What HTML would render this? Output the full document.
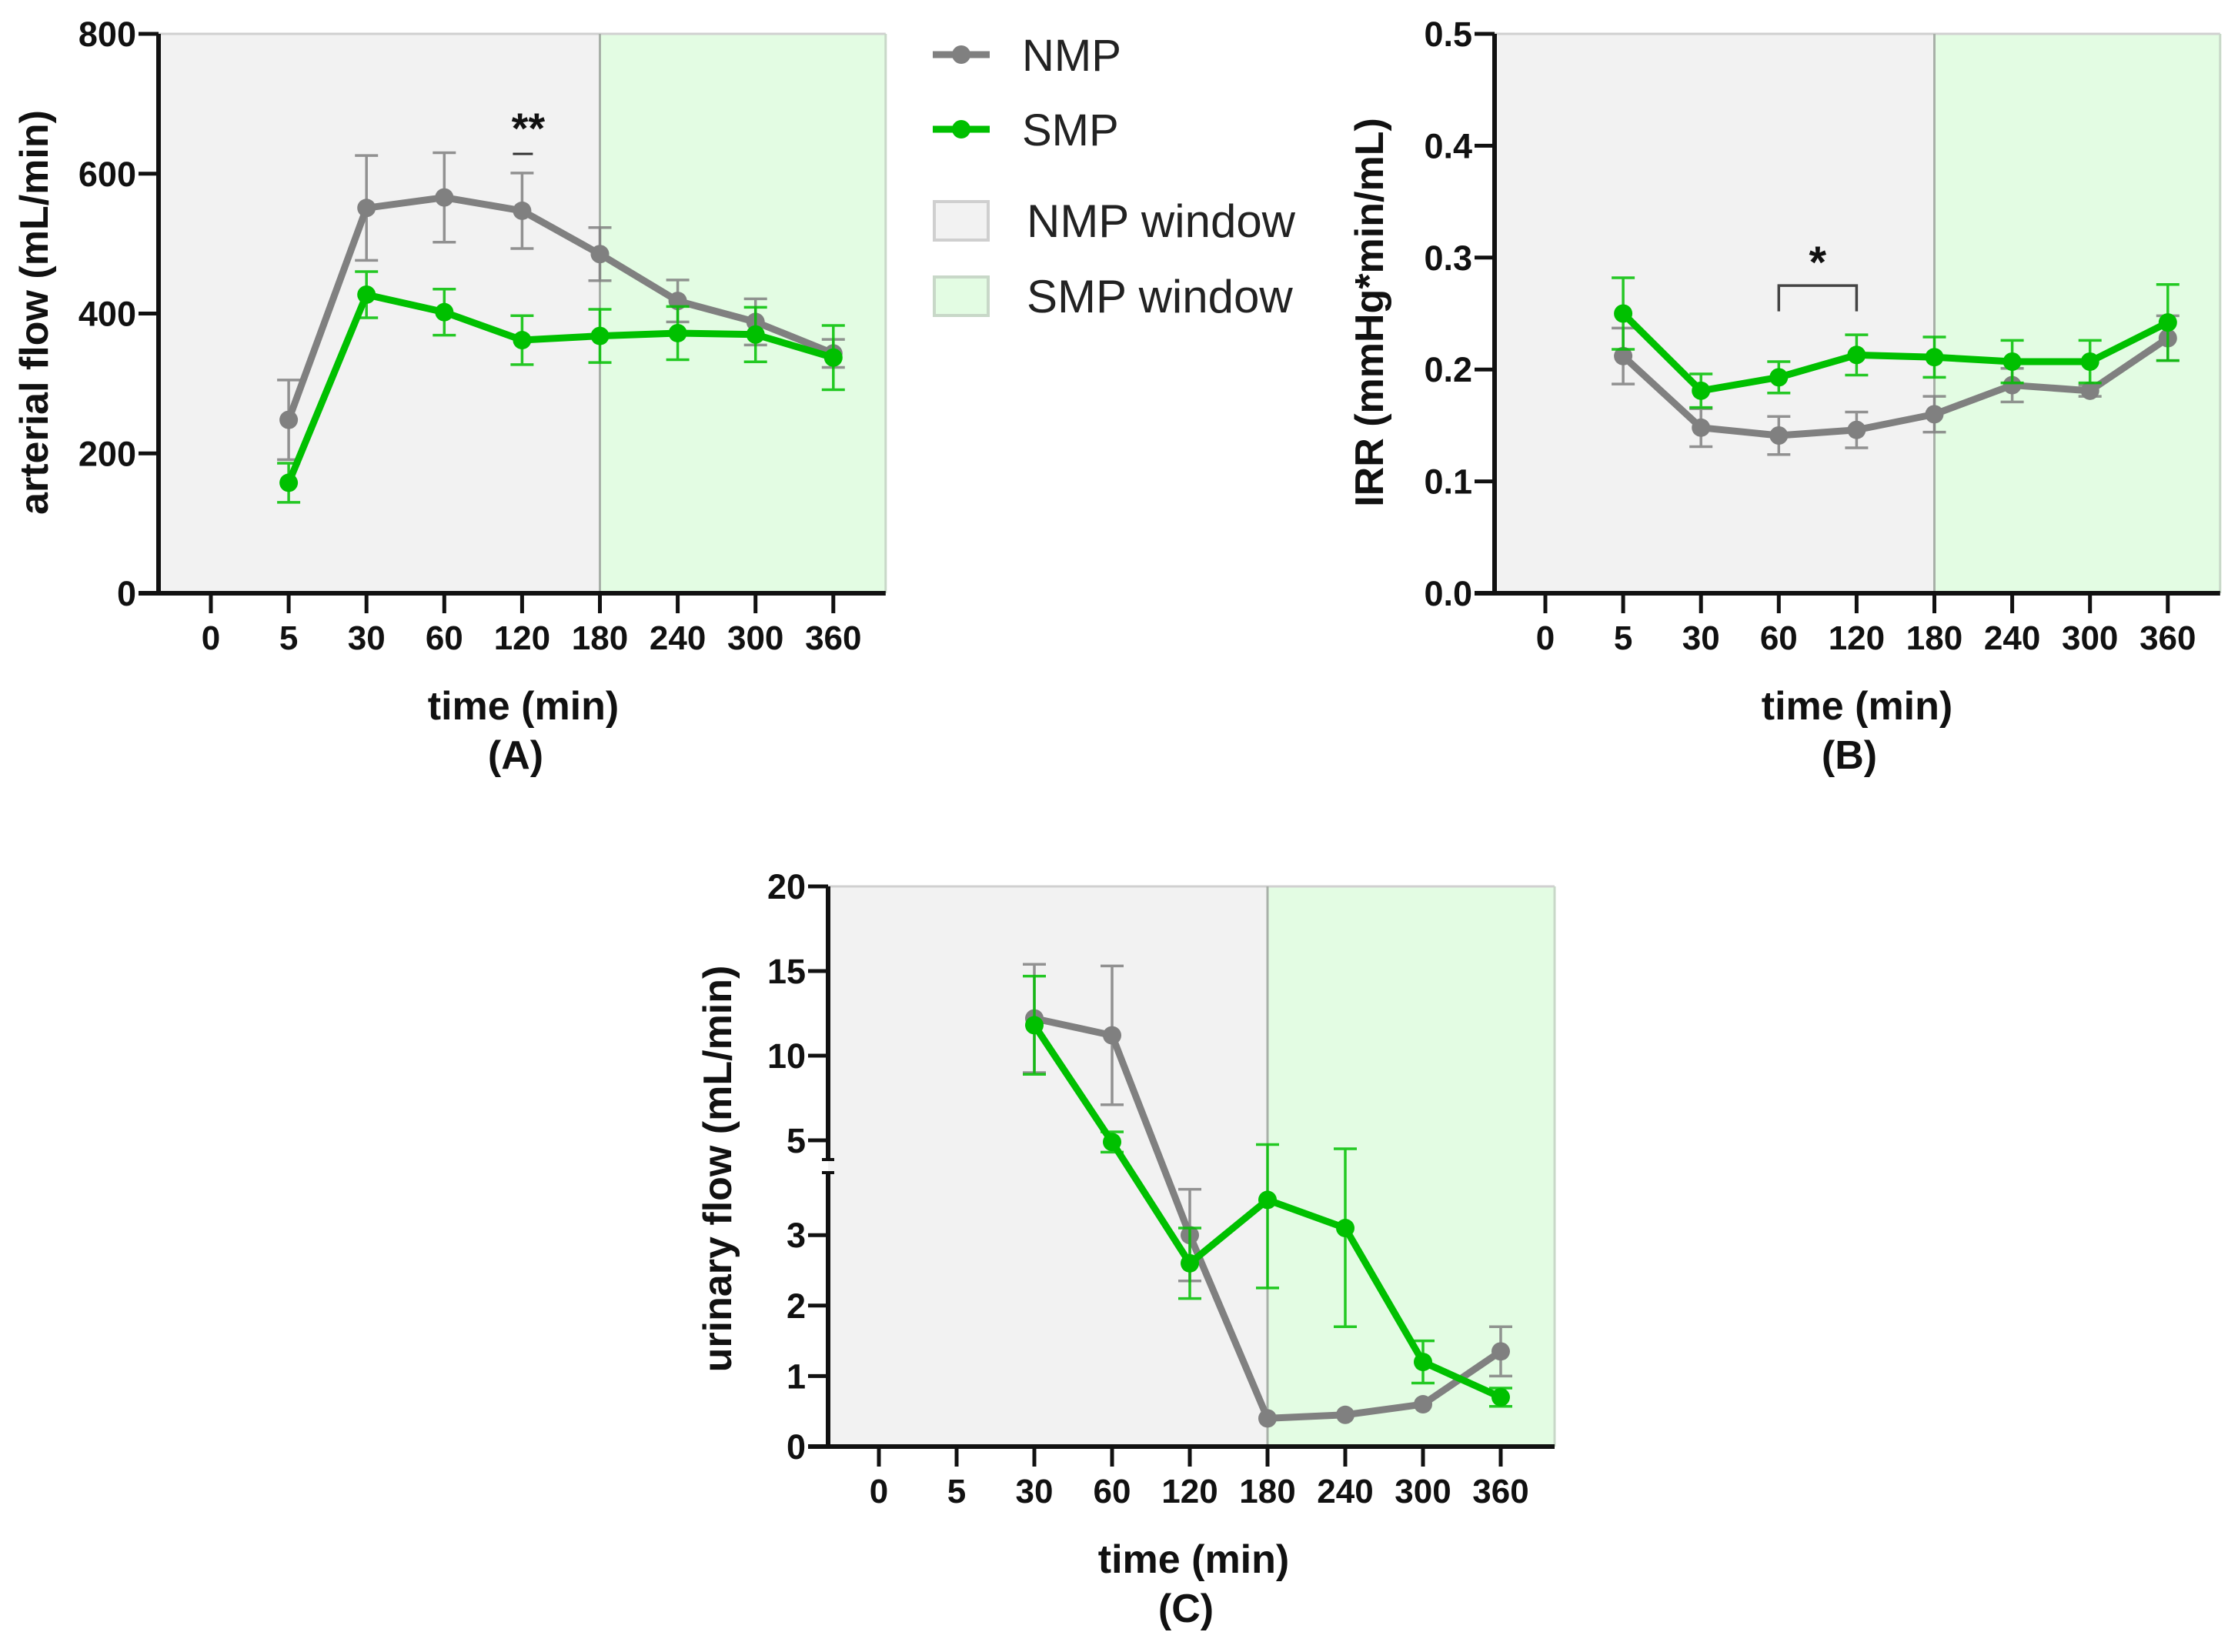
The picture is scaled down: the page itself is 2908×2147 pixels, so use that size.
<!DOCTYPE html>
<html><head><meta charset="utf-8"><style>
html,body{margin:0;padding:0;background:#fff}
svg{display:block}
text{font-family:"Liberation Sans",Arial,sans-serif}
</style></head><body>
<svg id="fig" width="2908" height="2147" viewBox="0 0 2908 2147" xmlns="http://www.w3.org/2000/svg">
<g>
  <g>
    <line x1="1212" y1="71" x2="1286" y2="71" stroke="#808080" stroke-width="9"/>
    <circle cx="1249" cy="71" r="12" fill="#808080"/>
    <text x="1328" y="92" font-size="58" fill="#222">NMP</text>
  </g>
  <g>
    <line x1="1212" y1="168" x2="1286" y2="168" stroke="#00c000" stroke-width="9"/>
    <circle cx="1249" cy="168" r="12" fill="#00c000"/>
    <text x="1328" y="189" font-size="58" fill="#222">SMP</text>
  </g>
  <g>
    <rect x="1214" y="262" width="70" height="50" fill="#f2f2f2" stroke="#cfcfcf" stroke-width="4"/>
    <text x="1334" y="308" font-size="60" fill="#222">NMP window</text>
  </g>
  <g>
    <rect x="1214" y="360" width="70" height="50" fill="#e3fce3" stroke="#c8d8c8" stroke-width="4"/>
    <text x="1334" y="406" font-size="60" fill="#222">SMP window</text>
  </g>
</g>
</svg>
<script>
// shared categories
const categories = ["0","5","30","60","120","180","240","300","360"];
// Panel A
const aTicks = [0,200,400,600,800];
const aNmp = [null,248,551,566,547,485,418,388,343];
const aNmpErr = [null,57,75,64,54,38,30,33,20];
const aSmp = [null,158,427,402,362,368,372,370,337];
const aSmpErr = [null,28,33,33,35,38,38,39,46];
// Panel B
const bTicks = [0,0.1,0.2,0.3,0.4,0.5];
const bTickLabels = ["0.0","0.1","0.2","0.3","0.4","0.5"];
const bNmp = [null,0.212,0.148,0.141,0.146,0.160,0.186,0.181,0.228];
const bNmpErr = [null,0.025,0.017,0.017,0.016,0.016,0.015,0.005,0.02];
const bSmp = [null,0.250,0.181,0.193,0.213,0.211,0.207,0.207,0.242];
const bSmpErr = [null,0.032,0.015,0.014,0.018,0.018,0.019,0.019,0.034];
// Panel C
const cTicks = [0,1,2,3,5,10,15,20];
const cNmp = [null,null,12.2,11.2,3.0,0.4,0.45,0.6,1.35];
const cNmpErr = [null,null,3.2,4.1,0.65,0,0,0,0.35];
const cSmp = [null,null,11.8,4.9,2.6,3.5,3.1,1.2,0.7];
const cSmpErr = [null,null,2.9,0.6,0.5,1.25,1.4,0.3,0.13];

const NS="http://www.w3.org/2000/svg";
const svg=document.getElementById('fig');
function el(tag,attrs,parent){const e=document.createElementNS(NS,tag);for(const k in attrs)e.setAttribute(k,attrs[k]);(parent||svg).appendChild(e);return e;}
const GRAY="#808080", GREEN="#00c000";

function panel(cfg){
  const g=el('g',{});
  
  
  const xs=i=>cfg.x0+i*cfg.dx;
  const right=xs(8)+cfg.rpad;
  const bx=xs(5);
  const bg1=el('rect',{x:cfg.ax,y:cfg.top,width:bx-cfg.ax,height:cfg.zero-cfg.top,fill:"#f2f2f2"},g);
  
  
  const bg2=el('rect',{x:bx,y:cfg.top,width:right-bx,height:cfg.zero-cfg.top,fill:"#e3fce3"},g);
  
  
  el('line',{x1:cfg.ax,y1:cfg.top,x2:right,y2:cfg.top,stroke:"#d0d0d0","stroke-width":3},g);
  el('line',{x1:right,y1:cfg.top,x2:right,y2:cfg.zero,stroke:"#c8d8c8","stroke-width":3},g);
  el('line',{x1:bx,y1:cfg.top,x2:bx,y2:cfg.zero,stroke:"#a8b0a8","stroke-width":3},g);
  const yaxis=el('g',{},g);
  
  
  if(cfg.breakTop){
    el('line',{x1:cfg.ax,y1:cfg.top,x2:cfg.ax,y2:cfg.breakTop,stroke:"#111","stroke-width":6},yaxis);
    el('line',{x1:cfg.ax,y1:cfg.breakBot,x2:cfg.ax,y2:cfg.zero+3,stroke:"#111","stroke-width":6},yaxis);
    el('line',{x1:cfg.ax-8,y1:cfg.breakTop,x2:cfg.ax+8,y2:cfg.breakTop,stroke:"#111","stroke-width":4},yaxis);
    el('line',{x1:cfg.ax-8,y1:cfg.breakBot,x2:cfg.ax+8,y2:cfg.breakBot,stroke:"#111","stroke-width":4},yaxis);
  } else {
    el('line',{x1:cfg.ax,y1:cfg.top,x2:cfg.ax,y2:cfg.zero+3,stroke:"#111","stroke-width":6},yaxis);
  }
  cfg.ticks.forEach((t,i)=>{
    const y=cfg.ys(t);
    el('line',{x1:cfg.ax-26,y1:y,x2:cfg.ax,y2:y,stroke:"#111","stroke-width":5},yaxis);
    const tx=el('text',{x:cfg.ax-29,y:y+16,"text-anchor":"end","font-size":45,"font-weight":"bold",fill:"#111"},yaxis);
    tx.textContent=cfg.tickLabels?cfg.tickLabels[i]:String(t);
    
    
  });
  const xaxis=el('g',{},g);
  
  
  el('line',{x1:cfg.ax-26,y1:cfg.zero,x2:right,y2:cfg.zero,stroke:"#111","stroke-width":6},xaxis);
  categories.forEach((c,i)=>{
    el('line',{x1:xs(i),y1:cfg.zero,x2:xs(i),y2:cfg.zero+26,stroke:"#111","stroke-width":5},xaxis);
    const tx=el('text',{x:xs(i),y:cfg.zero+73,"text-anchor":"middle","font-size":44,"font-weight":"bold",fill:"#111"},xaxis);
    tx.textContent=c;
    
    
  });
  const xt=el('text',{x:cfg.tcx,y:cfg.zero+164,"text-anchor":"middle","font-size":52,"font-weight":"bold",fill:"#111"},g);
  xt.textContent="time (min)";
  
  
  const pl=el('text',{x:cfg.tcx-10,y:cfg.zero+228,"text-anchor":"middle","font-size":52,"font-weight":"bold",fill:"#111"},g);
  pl.textContent=cfg.label;
  
  
  const yt=el('text',{x:0,y:0,"text-anchor":"middle","font-size":52,"font-weight":"bold",fill:"#111",transform:`translate(${cfg.ytx},${cfg.yty}) rotate(-90)`},g);
  yt.textContent=cfg.ytitle;
  
  
  [[cfg.nmp,cfg.nmpErr,GRAY,'nmp'],[cfg.smp,cfg.smpErr,GREEN,'smp']].forEach(([vals,errs,col,nm])=>{
    const sg=el('g',{},g);
    
    
    vals.forEach((v,i)=>{
      if(v==null||!errs[i])return;
      const x=xs(i),y1=cfg.ys(v+errs[i]),y2=cfg.ys(Math.max(v-errs[i],0));
      const eb=el('path',{d:`M${x},${y1}V${y2}M${x-15},${y1}H${x+15}M${x-15},${y2}H${x+15}`,stroke:col,"stroke-width":3.5,fill:"none",opacity:0.85},sg);
      
      
    });
    let d="";
    vals.forEach((v,i)=>{if(v==null)return;d+=(d?"L":"M")+xs(i)+","+cfg.ys(v);});
    const ln=el('path',{d:d,stroke:col,"stroke-width":9,fill:"none","stroke-linejoin":"round"},sg);
    
    
    vals.forEach((v,i)=>{
      if(v==null)return;
      const pt=el('circle',{cx:xs(i),cy:cfg.ys(v),r:12,fill:col},sg);
      
      
    });
  });
  return {g,xs};
}

const A=panel({name:'panel-a-arterial-flow',ax:206,top:44,zero:771,x0:274,dx:101.1,rpad:68,tcx:680,
  ys:v=>771-(v/800)*727,ticks:aTicks,nmp:aNmp,nmpErr:aNmpErr,smp:aSmp,smpErr:aSmpErr,
  label:"(A)",ytitle:"arterial flow (mL/min)",ytx:62,yty:406});
{const s=el('text',{x:A.xs(4)+8,y:186,"text-anchor":"middle","font-size":56,"font-weight":"bold",fill:"#111"},A.g);
 s.textContent="**";
 
 
 el('line',{x1:A.xs(4)-12,y1:200,x2:A.xs(4)+14,y2:200,stroke:"#333","stroke-width":3},A.g);}

const B=panel({name:'panel-b-irr',ax:1942,top:44,zero:771,x0:2008,dx:101.1,rpad:68,tcx:2413,
  ys:v=>771-(v/0.5)*727,ticks:bTicks,tickLabels:bTickLabels,nmp:bNmp,nmpErr:bNmpErr,smp:bSmp,smpErr:bSmpErr,
  label:"(B)",ytitle:"IRR (mmHg*min/mL)",ytx:1797,yty:406});
{const ys=v=>771-(v/0.5)*727;
 const br=el('path',{d:`M${B.xs(3)},${ys(0.252)}V${ys(0.275)}H${B.xs(4)}V${ys(0.252)}`,stroke:"#444","stroke-width":3.5,fill:"none"},B.g);
 
 
 const s=el('text',{x:(B.xs(3)+B.xs(4))/2,y:ys(0.3)+26,"text-anchor":"middle","font-size":58,"font-weight":"bold",fill:"#111"},B.g);
 s.textContent="*";
 
 }

const cYs=v=> v<=3.85 ? 1880-v*91.6 : 1482-(v-5)*22;
panel({name:'panel-c-urinary-flow',ax:1076,top:1152,zero:1880,x0:1142,dx:101.0,rpad:70,tcx:1551,
  ys:cYs,ticks:cTicks,nmp:cNmp,nmpErr:cNmpErr,smp:cSmp,smpErr:cSmpErr,breakTop:1507,breakBot:1524,
  label:"(C)",ytitle:"urinary flow (mL/min)",ytx:950,yty:1519});
</script>
</body></html>
